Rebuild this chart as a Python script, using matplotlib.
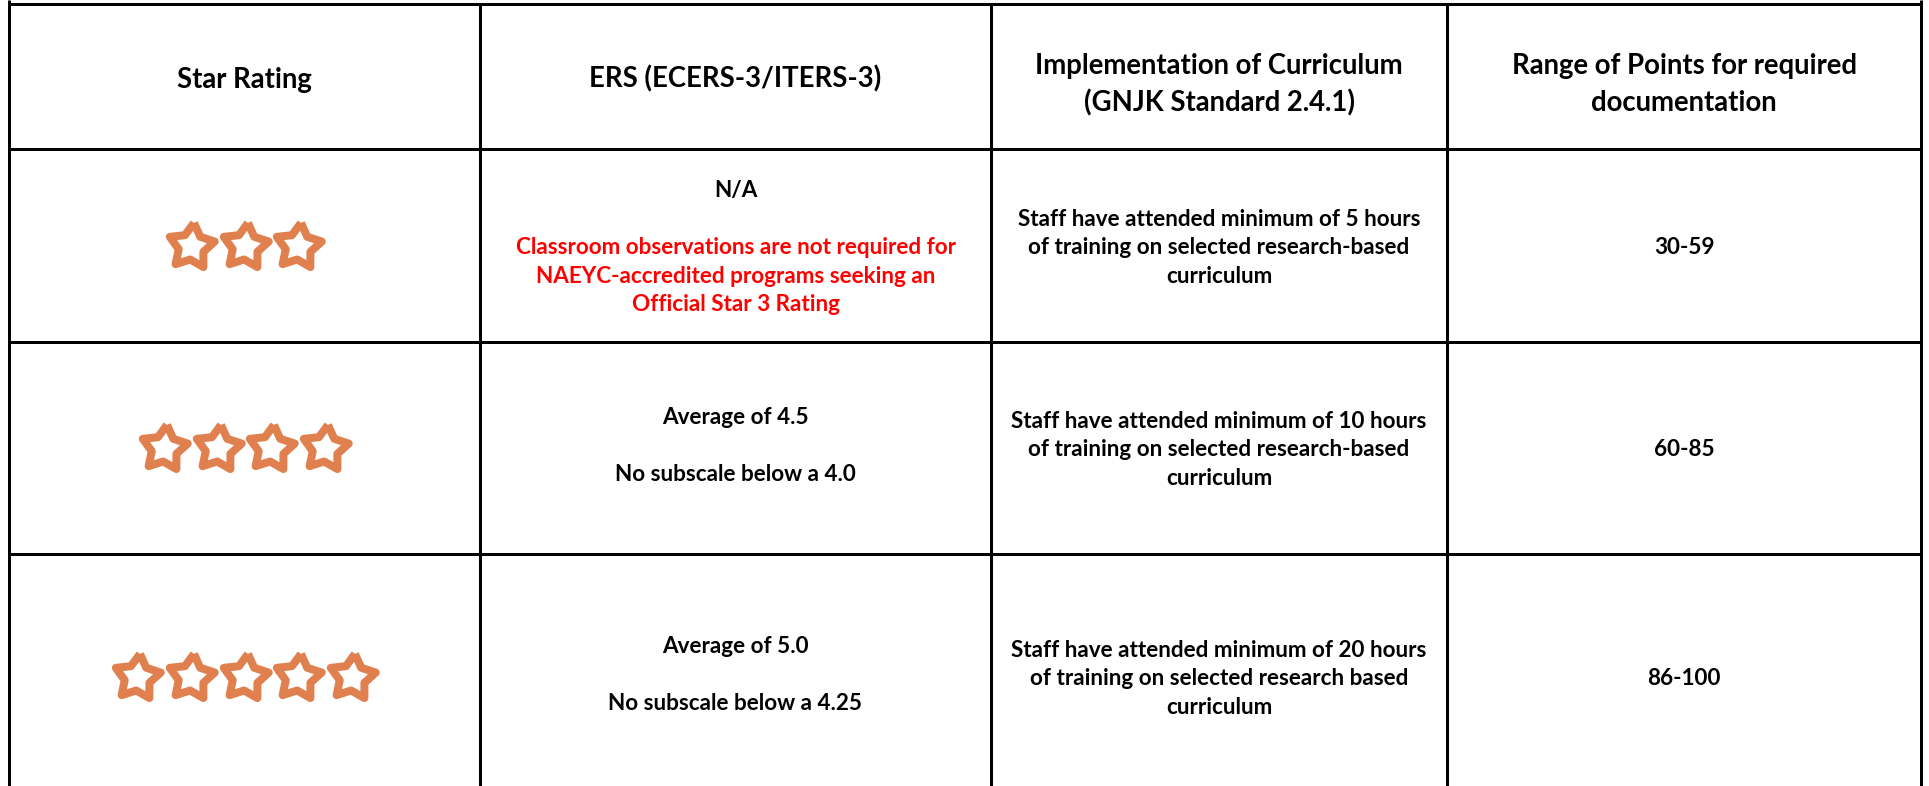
import numpy as np
import matplotlib
matplotlib.use("Agg")
import matplotlib.pyplot as plt
from matplotlib.markers import MarkerStyle

# table content
headers = ["Star Rating",
           "ERS (ECERS-3/ITERS-3)",
           "Implementation of Curriculum\n(GNJK Standard 2.4.1)",
           "Range of Points for required\ndocumentation"]
star_counts = [3, 4, 5]
ers_lines = [["N/A", "", "Classroom observations are not required for",
              "NAEYC-accredited programs seeking an", "Official Star 3 Rating"],
             ["Average of 4.5", "", "No subscale below a 4.0"],
             ["Average of 5.0", "", "No subscale below a 4.25"]]
ers_red_from = [2, None, None]   # lines from this index on are red
curriculum = ["Staff have attended minimum of 5 hours\nof training on selected research-based\ncurriculum",
              "Staff have attended minimum of 10 hours\nof training on selected research-based\ncurriculum",
              "Staff have attended minimum of 20 hours\nof training on selected research based\ncurriculum"]
point_ranges = ["30-59", "60-85", "86-100"]

# layout in pixels
W, H = 1929, 786
col_x = [9, 480, 991, 1447, 1921]
row_y = [4, 149, 342, 554]
row_mid = [246, 448, 677]
FONT = "Lato"
head_px, body_px = 27.5, 22.5
head_gap, body_gap = 37, 28.5
px = 72 / 100  # px -> pt at dpi 100

fig = plt.figure(figsize=(W / 100, H / 100), dpi=100)
ax = fig.add_axes([0, 0, 1, 1])
ax.set_xlim(0, W)
ax.set_ylim(H, 0)
ax.axis("off")

lw = 3 * px
ax.vlines([col_x[0], col_x[-1]], 0, H, color="black", lw=lw)
ax.vlines(col_x[1:-1], row_y[0], H, color="black", lw=lw)
ax.hlines(row_y, col_x[0], col_x[-1], color="black", lw=lw)


def put_lines(x, ymid, lines, size, gap, colors=None):
    n = len(lines)
    for i, t in enumerate(lines):
        if not t:
            continue
        y = ymid + (i - (n - 1) / 2) * gap + 0.358 * size
        c = colors[i] if colors else "black"
        ax.text(x, y, t, ha="center", va="baseline", fontsize=size * px,
                fontweight="bold", family=FONT, color=c)


centers = [(a + b) / 2 for a, b in zip(col_x[:-1], col_x[1:])]

for cx, h in zip(centers, headers):
    parts = h.split("\n")
    put_lines(cx, 78 if len(parts) == 1 else 83, parts, head_px, head_gap)

# star marker
ang = np.deg2rad(90 - 6 + np.arange(10) * 36)
rad = np.where(np.arange(10) % 2 == 0, 1.0, 0.55)
verts = np.column_stack([rad * np.cos(ang), rad * np.sin(ang)])
verts = np.vstack([verts, verts[:1]])
star = MarkerStyle(verts, joinstyle="round")
spacing = 53.6

for r, n in enumerate(star_counts):
    xs = centers[0] + (np.arange(n) - (n - 1) / 2) * spacing
    ax.plot(xs, [row_mid[r]] * n, ls="none", marker=star, markersize=34,
            markerfacecolor="white", markeredgecolor="#E0804F",
            markeredgewidth=8 * px)

for r in range(3):
    lines = ers_lines[r]
    red = ers_red_from[r]
    cols = ["#FF0000" if red is not None and i >= red else "black"
            for i in range(len(lines))]
    put_lines(centers[1], row_mid[r] - (4 if r > 0 else 0), lines, body_px, body_gap, cols)
    put_lines(centers[2], row_mid[r], curriculum[r].split("\n"), body_px, body_gap)
    put_lines(centers[3], row_mid[r], [point_ranges[r]], body_px, body_gap)

fig.savefig("out.png", dpi=100)
